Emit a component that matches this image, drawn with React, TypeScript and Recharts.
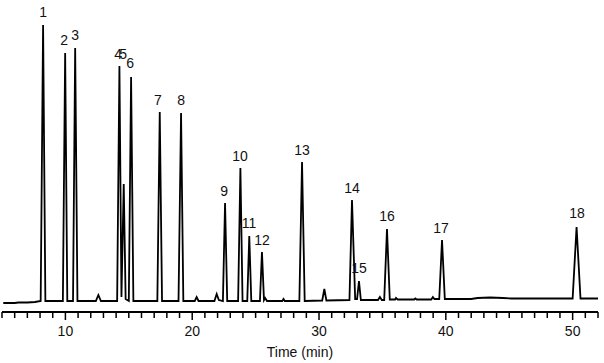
import React from 'react';
import { ComposedChart, Line, Scatter, XAxis, YAxis } from 'recharts';

// detector trace (time in min, signal in arbitrary units)
const traceTime = [
  5.1, 6.0, 6.3, 7.0, 7.6, 8.05, 8.24, 8.42, 9.0, 9.8, 9.98, 10.15, 10.6, 10.77, 10.95,
  12.4, 12.6, 12.8, 14.08, 14.26, 14.42, 14.6, 14.75, 15.0, 15.18, 15.36,
  17.25, 17.44, 17.62, 18.92, 19.12, 19.3, 20.2, 20.35, 20.5, 21.75, 21.93, 22.1,
  22.42, 22.59, 22.76, 23.62, 23.8, 23.97, 24.34, 24.5, 24.66, 25.34, 25.5, 25.66,
  25.75, 25.9, 27.1, 27.2, 27.3, 28.45, 28.66, 28.87, 30.25, 30.42, 30.58,
  32.4, 32.6, 32.85, 33.0, 33.15, 33.3, 34.65, 34.8, 34.95, 35.14, 35.36, 35.58,
  36.0, 36.07, 36.2, 37.5, 37.6, 37.7, 38.85, 38.98, 39.1, 39.48, 39.7, 39.92,
  42.0, 42.5, 43.5, 44.5, 45.2, 46.0, 50.0, 50.31, 50.62, 52.0,
];
const traceSignal = [
  -2, -2, -1.5, -1.5, -1, 0, 276, 0, 0, 0, 248, 0, 0, 253, 0,
  0, 6, 0, 0, 235, 4, 117, 2, 0, 224, 0,
  0, 189, 0, 0, 188, 0, 0, 4, 0, 0, 7, 1,
  0, 98, 0, 0, 133, 0, 0, 65, 0, 0, 49, 1,
  3, 0, 0, 2, 0, 0, 139, 0, 0.5, 12, 0.5,
  1, 101, 2, 2, 20, 1, 1, 4, 1, 1, 72, 1.5,
  1.5, 3, 1.5, 1.5, 2.5, 1.5, 1.5, 4, 2, 2, 61, 2,
  2, 3, 3.5, 3, 2.5, 2.5, 2.5, 74, 2.5, 2.5,
];

// peak numbers and where they sit
const peakNames = ['1', '2', '3', '4', '5', '6', '7', '8', '9', '10', '11', '12', '13', '14', '15', '16', '17', '18'];
const labelTime = [8.24, 9.9, 10.77, 14.16, 14.55, 15.1, 17.3, 19.12, 22.51, 23.77, 24.48, 25.5, 28.66, 32.6, 33.15, 35.36, 39.62, 50.34];
const labelLevel = [276, 248, 253, 234, 234, 225, 188, 188, 97, 132, 65, 48, 138, 100, 20, 72, 60, 75];

const majorTicks = [10, 20, 30, 40, 50];
const allTicks = Array.from({ length: 48 }, (_, i) => 5 + i);

const trace = traceTime.map((t, i) => ({ t, v: traceSignal[i] }));
const labels = peakNames.map((name, i) => ({ t: labelTime[i], v: labelLevel[i], name }));

const FONT = '"Liberation Sans", Arial, sans-serif';

const TimeTick = (props: any) => {
  const { x, y, payload } = props;
  const major = majorTicks.includes(payload.value);
  return (
    <g>
      <line x1={x} x2={x} y1={y} y2={y + (major ? 8 : 6)} stroke="#000" strokeWidth={1.5} />
      {major && (
        <text x={x} y={y + 24} textAnchor="middle" fontSize={14} fontFamily={FONT} fill="#111">
          {payload.value}
        </text>
      )}
    </g>
  );
};

const PeakLabel = (props: any) => {
  const { cx, cy, payload } = props;
  return (
    <text x={cx} y={cy - 8} textAnchor="middle" fontSize={14} fontFamily={FONT} fill="#111">
      {payload.name}
    </text>
  );
};

export default function App() {
  return (
    <div style={{ position: 'absolute', left: 0, top: 0, background: '#fff' }}>
      <ComposedChart width={604} height={363} margin={{ top: 12, right: 6, bottom: 0, left: 2 }}>
        <XAxis
          dataKey="t"
          type="number"
          domain={[5, 52]}
          ticks={allTicks}
          interval={0}
          tickSize={0}
          tickMargin={0}
          tick={<TimeTick />}
          axisLine={{ stroke: '#000', strokeWidth: 2 }}
          height={51}
          label={{ value: 'Time (min)', position: 'insideBottom', offset: 6, fontSize: 14, fontFamily: FONT, fill: '#111' }}
        />
        <YAxis hide type="number" domain={[-11, 289]} />
        <Line
          data={trace}
          dataKey="v"
          type="linear"
          stroke="#000"
          strokeWidth={1.8}
          dot={false}
          isAnimationActive={false}
        />
        <Scatter data={labels} dataKey="v" shape={<PeakLabel />} isAnimationActive={false} />
      </ComposedChart>
    </div>
  );
}
